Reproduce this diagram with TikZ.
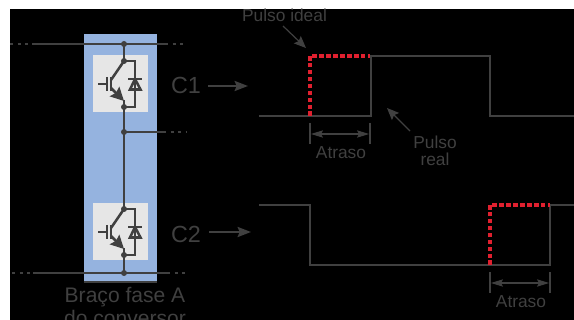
\documentclass[tikz,border=0pt]{standalone}
\usepackage{fontspec}
\setmainfont{Liberation Sans}
\usetikzlibrary{arrows.meta,calc}
\definecolor{fio}{HTML}{404040}
\definecolor{braco}{HTML}{95B3DF}
\definecolor{caixa}{HTML}{E6E6E6}
\definecolor{ideal}{HTML}{E0202F}
\tikzset{
    condutor/.style={draw=fio,line width=1.9pt},
    pulsoreal/.style={draw=fio,line width=2.2pt},
    pulsoideal/.style={draw=ideal,line width=2.35pt,dash pattern=on 3.4pt off 1.8pt},
    tracos/.style={draw=fio,line width=1.9pt,dash pattern=on 2.25pt off 3.4pt},
    seta/.style={draw=fio,line width=.9pt,-{Stealth[length=9pt,width=7.5pt,inset=1.5pt]}},
    setac/.style={draw=fio,line width=1.7pt,-{Stealth[length=10pt,width=7.5pt,inset=1.5pt]}},
    cota/.style={draw=fio,line width=.8pt,{Stealth[length=9pt,width=5.5pt,inset=1.5pt]}-{Stealth[length=9pt,width=5.5pt,inset=1.5pt]}},
    texto/.style={text=fio,font=\fontsize{13}{13.2}\selectfont,align=center,inner sep=0pt},
    grande/.style={text=fio,font=\fontsize{15.8}{15.8}\selectfont,align=center,inner sep=0pt},
    junta/.style={circle,fill=fio,inner sep=0pt,minimum size=4.5pt},
}
\begin{document}
\begin{tikzpicture}[x=0.75pt,y=-0.75pt,>=stealth]
    \useasboundingbox (0,0) rectangle (574,320);
    \clip (0,0) rectangle (574,320);
    \fill[white] (0,0) rectangle (574,320);
    \fill[black] (10,9) rectangle (574,320);
    % braco
    \fill[braco] (83.5,34) rectangle (157,282);
    \draw[draw=fio,line width=.8pt] (83.5,282) -- (157,282);
    \foreach \n/\d in {1/0,2/148}
    {
    \begin{scope}[yshift=-\d*0.75pt]
    \fill[caixa] (92.5,55.5) rectangle (147.5,112);
    \node[junta] (col\n) at (124,61) {};
    \node[junta] (emi\n) at (124,107) {};
    \coordinate (gA\n) at (98,84);
    \coordinate (gB\n) at (107,84);
    \coordinate (cA\n) at (135,61);
    \coordinate (cB\n) at (135,107);
    \coordinate (inA\n) at (111,80);
    \coordinate (inB\n) at (111,88);
    \draw[condutor] (gA\n) -- (gB\n);
    \draw[condutor] (107,77) -- (107,91);
    \draw[condutor] (111,77) -- (111,91);
    \draw[condutor] (inA\n) -- (col\n.center);
    \draw[condutor,-{Stealth[length=10pt,width=10pt,inset=1.5pt]}] (inB\n) -- (124,101);
    \draw[condutor] (124,100) -- (emi\n.center);
    \draw[condutor] (col\n.center) -- (cA\n) -- (cB\n) -- (emi\n.center);
    \draw[condutor] (128,79) -- (142,79);
    \draw[condutor,line join=miter] (135,79) -- (130,89.5) -- (140.5,89.5) -- cycle;
    \end{scope}
    }
    % barramentos
    \node[junta] (topo) at (124,44) {};
    \node[junta] (meio) at (124,132) {};
    \node[junta] (base) at (124,273) {};
    \coordinate (tA) at (10,44);
    \coordinate (tB) at (32,44);
    \coordinate (tC) at (165,44);
    \coordinate (tD) at (187,44);
    \coordinate (mB) at (163,132);
    \coordinate (mC) at (187,132);
    \coordinate (bA) at (12,273);
    \coordinate (bB) at (33,273);
    \coordinate (bC) at (167,273);
    \coordinate (bD) at (187,273);
    \draw[condutor] (topo.center) -- (col1.center);
    \draw[condutor] (emi1.center) -- (col2.center);
    \draw[condutor] (emi2.center) -- (base.center);
    \draw[condutor] (tB) -- (tC);
    \draw[condutor] (bB) -- (bC);
    \draw[condutor] (meio.center) -- (mB);
    \draw[tracos] (tA) -- (tB);
    \draw[tracos] (tC) -- (tD);
    \draw[tracos] (mB) -- (mC);
    \draw[tracos] (bA) -- (bB);
    \draw[tracos] (bC) -- (bD);
    % rotulos
    \node[grande,font=\fontsize{17.5}{17.5}\selectfont] (c1) at (186,85) {C1};
    \node[grande,font=\fontsize{17.5}{17.5}\selectfont] (c2) at (186,234) {C2};
    \node[grande,anchor=base] (fase) at (125,302) {Braço fase A};
    \node[grande,anchor=base] (conv) at (125,325) {do conversor};
    \coordinate (c1A) at (208,86);
    \coordinate (c1B) at (248,86);
    \coordinate (c2A) at (209,232);
    \coordinate (c2B) at (251,232);
    \draw[setac] (c1A) -- (c1B);
    \draw[setac] (c2A) -- (c2B);
    % pulsos
    \draw[pulsoreal] (259,116) -- (371,116) -- (371,56) -- (490,56) -- (490,116) -- (574,116);
    \draw[pulsoideal] (310,116) -- (310,56) -- (370,56);
    \draw[pulsoreal] (259,205) -- (310,205) -- (310,265) -- (550,265) -- (550,205) -- (574,205);
    \draw[pulsoideal] (490,265) -- (490,205) -- (550,205);
    % atrasos
    \foreach \n/\x/\y in {1/310/0,2/490/149}
    {
    \coordinate (tiA\n) at (\x,123+\y);
    \coordinate (tiB\n) at (\x,144+\y);
    \coordinate (tiC\n) at (\x+60,123+\y);
    \coordinate (tiD\n) at (\x+60,144+\y);
    \coordinate (atA\n) at (\x+1,134+\y);
    \coordinate (atB\n) at (\x+59,134+\y);
    \draw[condutor,line width=.8pt] (tiA\n) -- (tiB\n);
    \draw[condutor,line width=.8pt] (tiC\n) -- (tiD\n);
    \draw[cota] (atA\n) -- (atB\n);
    \node[texto] (atraso\n) at (\x+31,153+\y) {Atraso};
    }
    % pulso ideal e real
    \node[texto] (ideal) at (284.5,15) {Pulso ideal};
    \node[texto] (real) at (435,151) {Pulso\\real};
    \coordinate (idA) at (283,26);
    \coordinate (idB) at (306,48);
    \coordinate (reA) at (410,131);
    \coordinate (reB) at (387,108);
    \draw[seta] (idA) -- (idB);
    \draw[seta] (reA) -- (reB);
\end{tikzpicture}
\end{document}
